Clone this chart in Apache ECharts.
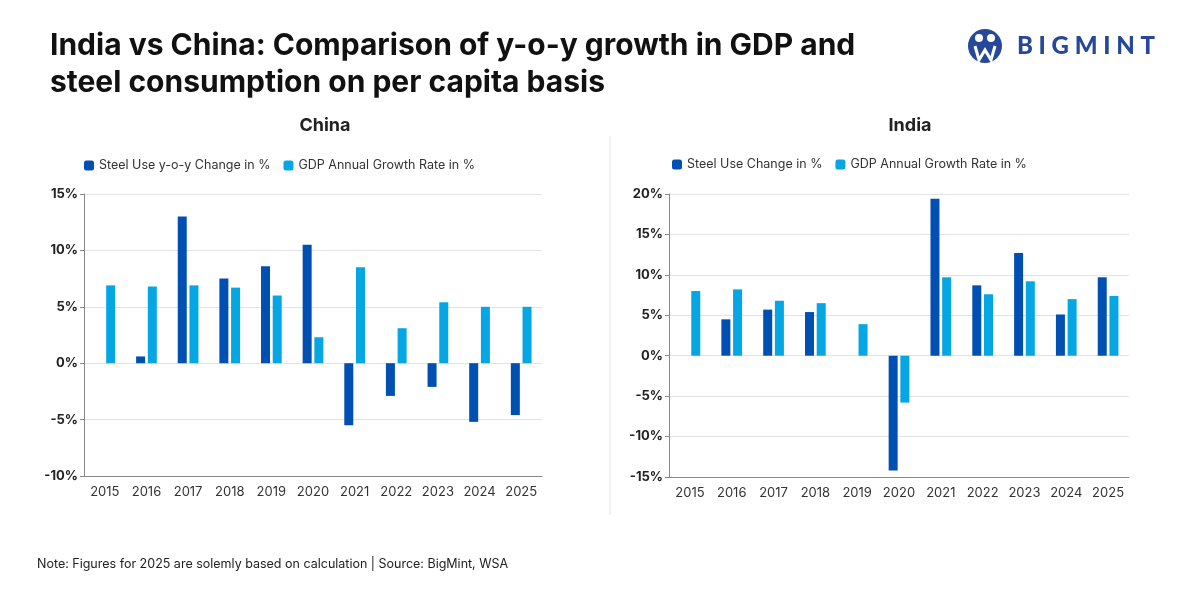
<!DOCTYPE html>
<html>
<head>
<meta charset="utf-8">
<script src="https://cdn.jsdelivr.net/npm/echarts@6/dist/echarts.min.js"></script>
<style>
  html, body { margin: 0; padding: 0; background: #fff; }
  #chart { width: 1200px; height: 600px; }
</style>
</head>
<body>
<div id="chart"></div>
<script>
// years shared by both panels
const years = ['2015', '2016', '2017', '2018', '2019', '2020', '2021', '2022', '2023', '2024', '2025']

// China
const chinaSteel = [null, 0.6, 13.0, 7.5, 8.6, 10.5, -5.5, -2.9, -2.1, -5.2, -4.6]
const chinaGdp = [6.9, 6.8, 6.9, 6.7, 6.0, 2.3, 8.5, 3.1, 5.4, 5.0, 5.0]

// India
const indiaSteel = [null, 4.5, 5.7, 5.4, null, -14.2, 19.4, 8.7, 12.7, 5.1, 9.7]
const indiaGdp = [8.0, 8.2, 6.8, 6.5, 3.9, -5.8, 9.7, 7.6, 9.2, 7.0, 7.4]

const darkBlue = '#0050b4'
const lightBlue = '#05a6e4'
const font = 'Inter, "Liberation Sans", sans-serif'

const chart = echarts.init(document.getElementById('chart'))

const xAxisBase = {
    type: 'category',
    data: years,
    axisLine: { onZero: false, lineStyle: { color: '#888', width: 1 } },
    axisTick: { show: false },
    axisLabel: { color: '#333', fontSize: 13, fontFamily: font, margin: 10, interval: 0 }
}
const yAxisBase = {
    type: 'value',
    interval: 5,
    axisLine: { show: true, lineStyle: { color: '#888', width: 1 } },
    axisTick: { show: true, length: 4, lineStyle: { color: '#888' } },
    splitLine: { lineStyle: { color: '#e3e3e3' } },
    axisLabel: {
        color: '#222', fontSize: 13, fontWeight: 'bold', fontFamily: font, margin: 6,
        formatter: '{value}%'
    }
}
const barBase = { type: 'bar', barWidth: 9, barGap: '30%' }

chart.setOption({
    backgroundColor: '#fff',
    title: [
        {
            text: 'India vs China: Comparison of y-o-y growth in GDP and\nsteel consumption on per capita basis',
            left: 45, top: 22,
            textStyle: { fontSize: 30, fontWeight: 'bold', color: '#111', fontFamily: font, lineHeight: 37 }
        },
        {
            text: 'China', left: 320, top: 112, textAlign: 'center',
            textStyle: { fontSize: 18, fontWeight: 'bold', color: '#222', fontFamily: font }
        },
        {
            text: 'India', left: 905, top: 112, textAlign: 'center',
            textStyle: { fontSize: 18, fontWeight: 'bold', color: '#222', fontFamily: font }
        },
        {
            text: 'Note: Figures for 2025 are solemly based on calculation | Source: BigMint, WSA',
            left: 32, top: 553,
            textStyle: { fontSize: 12.5, fontWeight: 'normal', color: '#222', fontFamily: font }
        }
    ],
    legend: [
        {
            data: ['Steel Use y-o-y Change in %', 'GDP Annual Growth Rate in %'],
            left: 79, top: 154, itemWidth: 10, itemHeight: 10, itemGap: 13,
            textStyle: { fontSize: 12.5, color: '#333', fontFamily: font }
        },
        {
            data: ['Steel Use Change in %', 'GDP Annual Growth Rate in %'],
            left: 667, top: 153, itemWidth: 10, itemHeight: 10, itemGap: 13,
            textStyle: { fontSize: 12.5, color: '#333', fontFamily: font }
        }
    ],
    grid: [
        { left: 84, top: 194, width: 458, height: 282 },
        { left: 669, top: 194, width: 460, height: 283 }
    ],
    xAxis: [
        Object.assign({ gridIndex: 0 }, xAxisBase),
        Object.assign({ gridIndex: 1 }, xAxisBase)
    ],
    yAxis: [
        Object.assign({ gridIndex: 0, min: -10, max: 15 }, yAxisBase),
        Object.assign({ gridIndex: 1, min: -15, max: 20 }, yAxisBase)
    ],
    series: [
        Object.assign({ name: 'Steel Use y-o-y Change in %', xAxisIndex: 0, yAxisIndex: 0, data: chinaSteel, itemStyle: { color: darkBlue } }, barBase),
        Object.assign({ name: 'GDP Annual Growth Rate in %', xAxisIndex: 0, yAxisIndex: 0, data: chinaGdp, itemStyle: { color: lightBlue } }, barBase),
        Object.assign({ name: 'Steel Use Change in %', xAxisIndex: 1, yAxisIndex: 1, data: indiaSteel, itemStyle: { color: darkBlue } }, barBase),
        Object.assign({ name: 'GDP Annual Growth Rate in %', xAxisIndex: 1, yAxisIndex: 1, data: indiaGdp, itemStyle: { color: lightBlue } }, barBase)
    ],
    graphic: [
        // divider between panels
        { type: 'line', shape: { x1: 610, y1: 136, x2: 610, y2: 515 }, style: { stroke: '#e3e3e3', lineWidth: 1 } },
        // logo mark
        { type: 'circle', shape: { cx: 985, cy: 46, r: 17 }, style: { fill: '#27479a' } },
        { type: 'circle', shape: { cx: 979, cy: 38, r: 4 }, style: { fill: '#fff' } },
        { type: 'circle', shape: { cx: 991, cy: 38, r: 4 }, style: { fill: '#fff' } },
        { type: 'polyline', shape: { points: [[975, 46], [979, 60], [985, 50], [991, 60], [995, 46]] }, style: { stroke: '#fff', lineWidth: 3, fill: 'none' } },
        {
            type: 'text', left: 1017, top: 34,
            style: { text: 'B I G M I N T', fontSize: 24, fontWeight: 900, fill: '#27479a', fontFamily: 'Lato, "Open Sans", sans-serif' }
        }
    ]
})

window.addEventListener('resize', function () {
    chart.resize()
})
</script>
</body>
</html>
